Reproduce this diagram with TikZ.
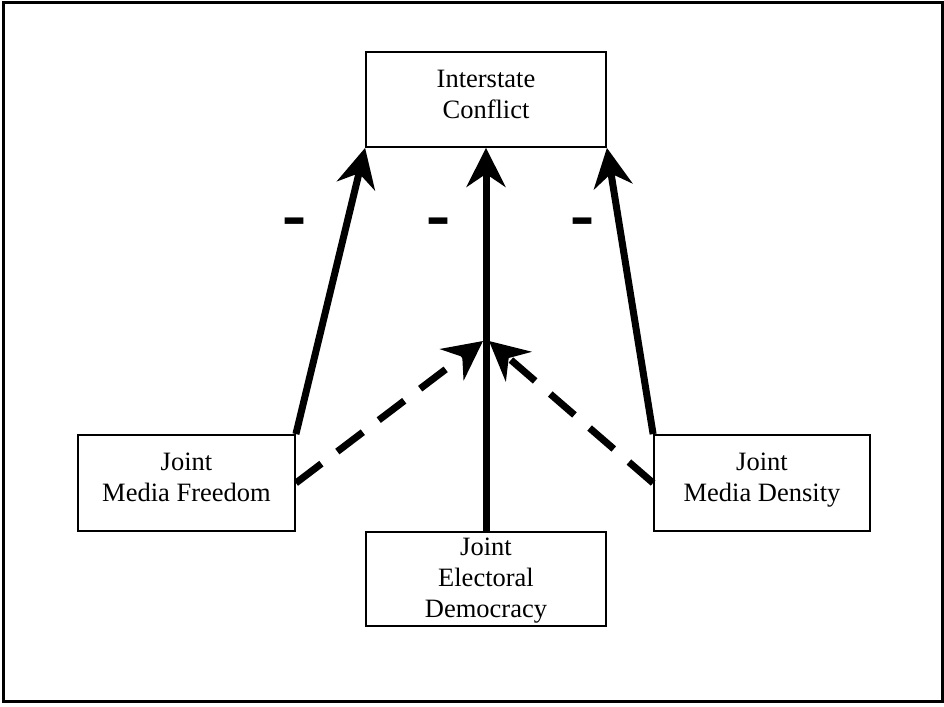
\documentclass[tikz,border=0pt]{standalone}
\usepackage{fontspec}
\usepackage{graphicx}
\setmainfont{Liberation Serif}
\usetikzlibrary{arrows.meta}
\begin{document}
\begin{tikzpicture}[x=1pt,y=-1pt,
  box/.style={draw, line width=1.8pt, inner sep=0pt},
  lbl/.style={align=center, font=\fontsize{26.5}{31}\selectfont, inner sep=0pt, anchor=north},
  conn/.style={line width=7pt, -{Stealth[length=39pt,width=39pt,inset=13pt]}},
  dashconn/.style={conn, dash pattern=on 32pt off 20pt},
  minus/.style={font=\fontsize{72}{72}\selectfont, inner sep=0pt, anchor=north}]
\useasboundingbox (0,0) rectangle (944,706);
\draw[line width=3pt] (3.5,2.5) rectangle (942.5,701.5);
% boxes
\node[box, minimum width=240pt, minimum height=95pt] (ic) at (486,99.5) {};
\node[lbl] (ict) at (486,69.5) {Interstate\\Conflict};
\node[box, minimum width=217pt, minimum height=96pt] (mf) at (186.5,483) {};
\node[lbl] (mft) at (186.5,453) {Joint\\Media Freedom};
\node[box, minimum width=216pt, minimum height=96pt] (md) at (762,483) {};
\node[lbl] (mdt) at (762,453) {Joint\\Media Density};
\node[box, minimum width=240pt, minimum height=94pt] (ed) at (486,579) {};
\node[lbl] (edt) at (486,537.5) {Joint\\Electoral\\Democracy};
% connectors
\draw[conn] (mf.north east) -- (ic.south west);
\draw[conn] (ed.north) -- (ic.south);
\draw[conn] (md.north west) -- (ic.south east);
\coordinate (jl) at (483,341);
\coordinate (jr) at (489,341);
\draw[dashconn] (mf.east) -- (jl);
\draw[dashconn] (md.west) -- (jr);
% signs
\node[minus] (m1) at (294,218) {\scalebox{1}[1.2]{-}};
\node[minus] (m2) at (438,218) {\scalebox{1}[1.2]{-}};
\node[minus] (m3) at (582,218) {\scalebox{1}[1.2]{-}};
\end{tikzpicture}
\end{document}
